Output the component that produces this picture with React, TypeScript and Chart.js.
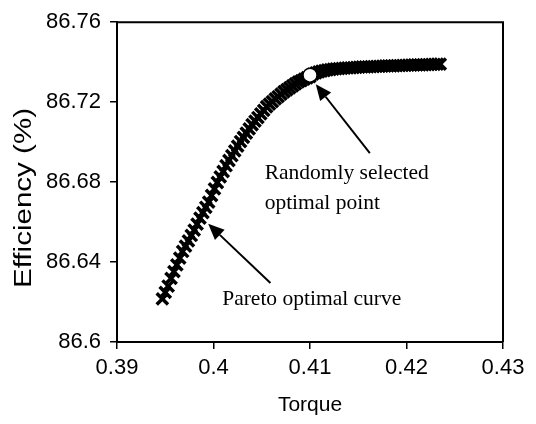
import React, { useEffect, useRef } from "react";
import { Chart, registerables } from "chart.js";

Chart.register(...registerables);

const torque = [
  0.3947, 0.395, 0.3953, 0.3956, 0.3959, 0.3962, 0.3965, 0.3968, 0.3971, 0.3974,
  0.3977, 0.398, 0.3983, 0.3986, 0.3989, 0.3992, 0.3995, 0.3998, 0.4001, 0.4004,
  0.4007, 0.401, 0.4013, 0.4016, 0.4019, 0.4022, 0.4025, 0.4028, 0.4031, 0.4034,
  0.4037, 0.404, 0.4043, 0.4046, 0.4049, 0.4052, 0.4055, 0.4058, 0.4061, 0.4064,
  0.4067, 0.407, 0.4073, 0.4076, 0.4079, 0.4082, 0.4085, 0.4088, 0.4091, 0.4094,
  0.4097, 0.41, 0.4103, 0.4106, 0.4109, 0.4112, 0.4115, 0.4118, 0.4121, 0.4124,
  0.4127, 0.413, 0.4133, 0.4136, 0.4139, 0.4142, 0.4145, 0.4148, 0.4151, 0.4154,
  0.4157, 0.416, 0.4163, 0.4166, 0.4169, 0.4172, 0.4175, 0.4178, 0.4181, 0.4184,
  0.4187, 0.419, 0.4193, 0.4196, 0.4199, 0.4202, 0.4205, 0.4208, 0.4211, 0.4214,
  0.4217, 0.422, 0.4223, 0.4226, 0.4229, 0.4232, 0.4235,
];

const efficiency = [
  86.6216, 86.6248, 86.628, 86.6318, 86.6352, 86.6386, 86.642, 86.6453, 86.648, 86.6506,
  86.6533, 86.656, 86.659, 86.662, 86.6647, 86.6674, 86.67, 86.6733, 86.6766, 86.6798,
  86.6826, 86.6853, 86.6882, 86.6908, 86.6932, 86.6956, 86.698, 86.7003, 86.7024, 86.7045,
  86.7066, 86.7087, 86.7105, 86.7123, 86.7141, 86.7159, 86.7177, 86.719, 86.7203, 86.7216,
  86.7228, 86.724, 86.7252, 86.7262, 86.7272, 86.7282, 86.7292, 86.7301, 86.7308, 86.7315,
  86.7322, 86.7328, 86.734, 86.7346, 86.7351, 86.7355, 86.7358, 86.7361, 86.7363, 86.7365,
  86.7367, 86.7368, 86.7369, 86.737, 86.7371, 86.7372, 86.7373, 86.7374, 86.7375, 86.7376,
  86.7376, 86.7377, 86.7378, 86.7378, 86.7379, 86.7379, 86.738, 86.7381, 86.7381, 86.7382,
  86.7382, 86.7383, 86.7383, 86.7384, 86.7384, 86.7385, 86.7385, 86.7386, 86.7386, 86.7387,
  86.7387, 86.7388, 86.7388, 86.7389, 86.7389, 86.739, 86.739,
];

const selectedTorque = [0.41];
const selectedEfficiency = [86.7335];

const xTickValues = [0.39, 0.4, 0.41, 0.42, 0.43];
const yTickValues = [86.6, 86.64, 86.68, 86.72, 86.76];

const xTitle = "Torque";
const yTitle = "Efficiency (%)";
const noteSelected = ["Randomly selected", "optimal point"];
const notePareto = "Pareto optimal curve";

const SANS = "'Liberation Sans', Arial, sans-serif";
const SERIF = "'Liberation Serif', 'Times New Roman', serif";

function fmt(v: number) {
  return String(Number(v.toFixed(2)));
}

function arrow(ctx: CanvasRenderingContext2D, x1: number, y1: number, x2: number, y2: number) {
  const ang = Math.atan2(y2 - y1, x2 - x1);
  const len = 16;
  const half = 7;
  const bx = x2 - len * Math.cos(ang);
  const by = y2 - len * Math.sin(ang);
  ctx.beginPath();
  ctx.moveTo(x1, y1);
  ctx.lineTo(bx, by);
  ctx.lineWidth = 2;
  ctx.strokeStyle = "#000";
  ctx.stroke();
  ctx.beginPath();
  ctx.moveTo(x2, y2);
  ctx.lineTo(bx + half * Math.sin(ang), by - half * Math.cos(ang));
  ctx.lineTo(bx - half * Math.sin(ang), by + half * Math.cos(ang));
  ctx.closePath();
  ctx.fillStyle = "#000";
  ctx.fill();
}

const decor = {
  id: "decor",
  afterDraw(chart: any) {
    const { ctx, chartArea: a, scales } = chart;
    const xs = scales.x;
    const ys = scales.y;
    ctx.save();
    ctx.strokeStyle = "#000";
    ctx.lineWidth = 2;
    ctx.beginPath();
    ctx.moveTo(a.left, a.top);
    ctx.lineTo(a.right, a.top);
    ctx.lineTo(a.right, a.bottom);
    ctx.stroke();

    arrow(ctx, xs.getPixelForValue(0.4162), ys.getPixelForValue(86.6945), xs.getPixelForValue(0.4106), ys.getPixelForValue(86.729));
    arrow(ctx, xs.getPixelForValue(0.4059), ys.getPixelForValue(86.6295), xs.getPixelForValue(0.39945), ys.getPixelForValue(86.6591));

    ctx.fillStyle = "#000";
    ctx.font = `21.5px ${SERIF}`;
    ctx.textAlign = "left";
    ctx.textBaseline = "alphabetic";
    ctx.fillText(noteSelected[0], xs.getPixelForValue(0.4053), ys.getPixelForValue(86.6815));
    ctx.fillText(noteSelected[1], xs.getPixelForValue(0.4053), ys.getPixelForValue(86.6665));
    ctx.fillText(notePareto, xs.getPixelForValue(0.4009), ys.getPixelForValue(86.6185));

    ctx.font = `21px ${SANS}`;
    ctx.textAlign = "center";
    ctx.textBaseline = "middle";
    ctx.fillText(xTitle, (a.left + a.right) / 2, 405);
    ctx.save();
    ctx.translate(25, 198);
    ctx.rotate(-Math.PI / 2);
    ctx.font = `23px ${SANS}`;
    const w = ctx.measureText(yTitle).width;
    ctx.scale(180 / w, 1);
    ctx.fillText(yTitle, 0, 0);
    ctx.restore();
    ctx.restore();
  },
};

export default function App() {
  const ref = useRef<HTMLCanvasElement | null>(null);
  useEffect(() => {
    if (!ref.current) return;
    const chart = new Chart(ref.current, {
      type: "scatter",
      data: {
        datasets: [
          {
            label: "selected",
            data: selectedTorque.map((x, i) => ({ x, y: selectedEfficiency[i] })),
            pointStyle: "circle",
            pointRadius: 7,
            pointBackgroundColor: "#fff",
            pointBorderColor: "#000",
            pointBorderWidth: 1.5,
            order: 0,
          },
          {
            label: "pareto",
            data: torque.map((x, i) => ({ x, y: efficiency[i] })),
            pointStyle: "crossRot",
            pointRadius: 8,
            pointBorderColor: "#000",
            pointBackgroundColor: "#000",
            pointBorderWidth: 3.5,
            order: 1,
          },
        ],
      },
      options: {
        animation: false,
        responsive: false,
        devicePixelRatio: 1,
        layout: { padding: { top: 17, right: 33, left: 0, bottom: 0 } },
        plugins: { legend: { display: false }, tooltip: { enabled: false } },
        scales: {
          x: {
            type: "linear",
            min: 0.39,
            max: 0.43,
            afterFit: (s: any) => { s.height = 82; },
            afterBuildTicks: (s: any) => { s.ticks = xTickValues.map((v) => ({ value: v })); },
            border: { display: true, color: "#000", width: 2 },
            grid: { display: true, drawOnChartArea: false, drawTicks: true, tickLength: 7, color: "#000", lineWidth: 1.5 },
            ticks: { color: "#000", font: { family: SANS, size: 22 }, padding: 6, maxRotation: 0, callback: (v: any) => fmt(Number(v)) },
          },
          y: {
            type: "linear",
            min: 86.6,
            max: 86.76,
            afterFit: (s: any) => { s.width = 117; },
            afterBuildTicks: (s: any) => { s.ticks = yTickValues.map((v) => ({ value: v })); },
            border: { display: true, color: "#000", width: 2 },
            grid: { display: true, drawOnChartArea: false, drawTicks: true, tickLength: 7, color: "#000", lineWidth: 1.5 },
            ticks: { color: "#000", font: { family: SANS, size: 22 }, padding: 9, callback: (v: any) => fmt(Number(v)) },
          },
        },
      },
      plugins: [decor],
    });
    return () => chart.destroy();
  }, []);
  return (
    <div style={{ position: "fixed", left: 0, top: 0, width: 536, height: 424, background: "#fff" }}>
      <canvas ref={ref} width={536} height={424} />
    </div>
  );
}
